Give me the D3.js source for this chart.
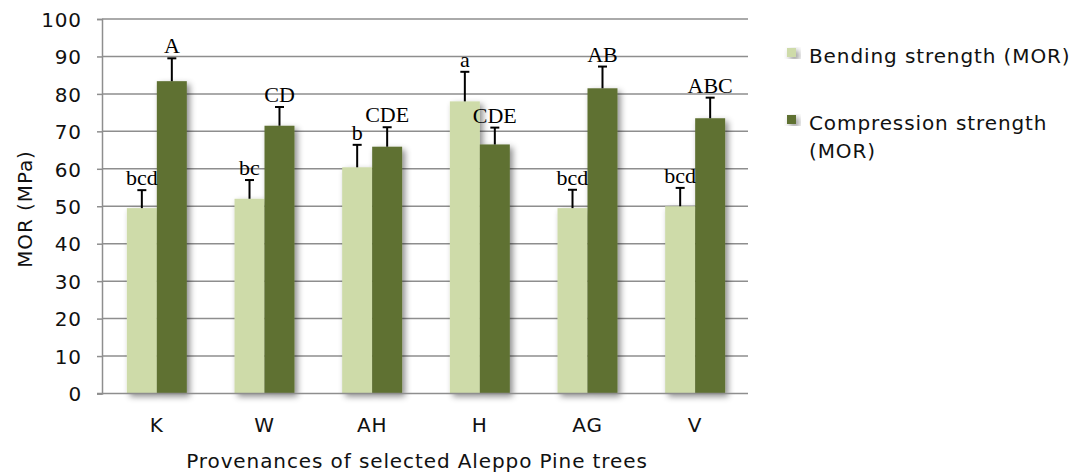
<!DOCTYPE html>
<html>
<head>
<meta charset="utf-8">
<script src="https://cdn.jsdelivr.net/npm/d3@7"></script>
<style>
  html, body { margin: 0; padding: 0; background: #fff; }
  svg { display: block; }
</style>
</head>
<body>
<svg id="chart" width="1078" height="474"></svg>
<script>
// ---- data ----
const categories = ["K", "W", "AH", "H", "AG", "V"];
const seriesNames = ["Bending strength (MOR)", "Compression strength (MOR)"];
const bendingValues = [49.5, 52.0, 60.4, 78.0, 49.5, 50.0];
const compressionValues = [83.4, 71.5, 65.9, 66.5, 81.5, 73.5];
const bendingErrors = [4.8, 5.0, 6.0, 7.9, 4.9, 4.9];
const compressionErrors = [6.1, 5.0, 5.2, 4.5, 5.8, 5.5];
const bendingLetters = ["bcd", "bc", "b", "a", "bcd", "bcd"];
const compressionLetters = ["A", "CD", "CDE", "CDE", "AB", "ABC"];
const yTicks = [0, 10, 20, 30, 40, 50, 60, 70, 80, 90, 100];

const colors = ["#cedba9", "#5f7132"];
const sansFont = "'DejaVu Sans', 'Open Sans', sans-serif";
const serifFont = "'Liberation Serif', 'Times New Roman', serif";
const sansSize = 20, sansSpacing = 0.9;

const svg = d3.select("#chart");
svg.append("rect").attr("width", 1078).attr("height", 474).attr("fill", "#fff");

const defs = svg.append("defs");
const f = defs.append("filter").attr("id", "shadow")
  .attr("x", "-30%").attr("y", "-10%").attr("width", "180%").attr("height", "130%");
f.append("feDropShadow").attr("dx", 3).attr("dy", 3).attr("stdDeviation", 3)
  .attr("flood-color", "#000").attr("flood-opacity", 0.45);

const pLeft = 102, pRight = 748, pTop = 19, pBottom = 393.5;

const x0 = d3.scaleBand().domain(categories).range([pLeft + 1, pRight + 1])
  .paddingInner(0.443).paddingOuter(0.2215);
const x1 = d3.scaleBand().domain([0, 1]).range([0, x0.bandwidth()]);
const y = d3.scaleLinear().domain([0, 100]).range([pBottom, pTop]);

function sans(sel) {
  return sel.attr("font-family", sansFont).attr("font-size", sansSize)
    .attr("letter-spacing", sansSpacing).attr("fill", "#111");
}

// gridlines
svg.append("g").selectAll("line").data(yTicks.filter(d => d > 0)).join("line")
  .attr("x1", pLeft).attr("x2", pRight)
  .attr("y1", d => y(d)).attr("y2", d => y(d))
  .attr("stroke", "#8e8e8e").attr("stroke-width", 1.5);

// y axis
const yAxis = d3.axisLeft(y).tickValues(yTicks).tickSize(5).tickPadding(15);
const ya = svg.append("g").attr("transform", `translate(${pLeft},0)`).call(yAxis);
ya.select(".domain").attr("stroke", "#8e8e8e").attr("stroke-width", 1.5);
ya.selectAll(".tick line").attr("stroke", "#8e8e8e").attr("stroke-width", 1.5);
sans(ya.selectAll(".tick text")).attr("dy", "0.36em");

// bars
const series = [
  { vals: bendingValues, errs: bendingErrors, letters: bendingLetters },
  { vals: compressionValues, errs: compressionErrors, letters: compressionLetters }
];
const barsG = svg.append("g").attr("filter", "url(#shadow)");
series.forEach((s, si) => {
  barsG.append("g").selectAll("rect").data(categories).join("rect")
    .attr("x", c => x0(c) + x1(si))
    .attr("y", (c, i) => y(s.vals[i]))
    .attr("width", x1.bandwidth())
    .attr("height", (c, i) => y(0) - y(s.vals[i]))
    .attr("fill", colors[si]);
});

// bottom axis line
svg.append("line").attr("x1", pLeft - 5).attr("x2", pRight)
  .attr("y1", y(0)).attr("y2", y(0))
  .attr("stroke", "#8e8e8e").attr("stroke-width", 1.5);

// error bars and letters
series.forEach((s, si) => {
  const g = svg.append("g");
  categories.forEach((c, i) => {
    const cx = x0(c) + x1(si) + x1.bandwidth() / 2;
    const yt = y(s.vals[i] + s.errs[i]);
    g.append("line").attr("x1", cx).attr("x2", cx)
      .attr("y1", y(s.vals[i])).attr("y2", yt)
      .attr("stroke", "#000").attr("stroke-width", 2);
    g.append("line").attr("x1", cx - 4.5).attr("x2", cx + 4.5)
      .attr("y1", yt).attr("y2", yt)
      .attr("stroke", "#000").attr("stroke-width", 2);
    g.append("text").attr("x", cx).attr("y", yt - 5)
      .attr("text-anchor", "middle")
      .attr("font-family", serifFont).attr("font-size", 22)
      .attr("fill", "#000").text(s.letters[i]);
  });
});

// x axis labels
sans(svg.append("g").selectAll("text").data(categories).join("text"))
  .attr("x", c => x0(c) + x0.bandwidth() / 2)
  .attr("y", 432)
  .attr("text-anchor", "middle")
  .text(c => c);

// axis titles
sans(svg.append("text")).attr("x", (pLeft + pRight) / 2 - 8).attr("y", 468)
  .attr("text-anchor", "middle")
  .text("Provenances of selected Aleppo Pine trees");

sans(svg.append("text"))
  .attr("transform", `translate(32,209) rotate(-90)`)
  .attr("text-anchor", "middle")
  .text("MOR (MPa)");

// legend
const legend = svg.append("g");
const legendItems = [
  { lines: ["Bending strength (MOR)"], y: 63 },
  { lines: ["Compression strength", "(MOR)"], y: 130 }
];
legendItems.forEach((it, i) => {
  legend.append("rect").attr("x", 787).attr("y", it.y - 15)
    .attr("width", 9).attr("height", 9).attr("fill", colors[i])
    .attr("filter", "url(#shadow)");
  const t = sans(legend.append("text")).attr("x", 809).attr("y", it.y);
  it.lines.forEach((ln, k) => {
    t.append("tspan").attr("x", 809).attr("dy", k === 0 ? 0 : 28).text(ln);
  });
});
</script>
</body>
</html>
